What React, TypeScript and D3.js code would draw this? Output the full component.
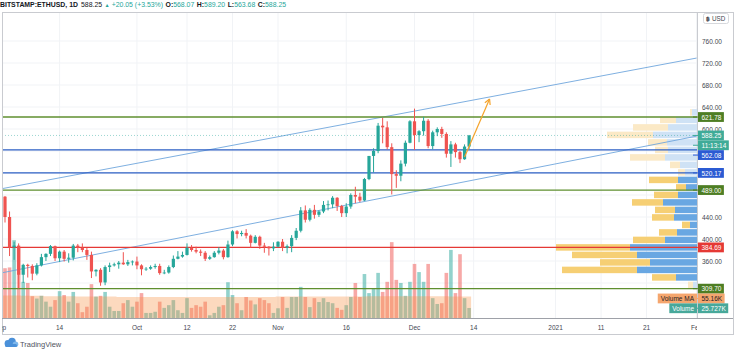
import * as d3 from 'd3';
import { useRef, useEffect } from 'react';

// BITSTAMP:ETHUSD daily candles, first candle 2 Sep 2020, last 13 Dec 2020
const firstDay = Date.UTC(2020, 8, 2);

const opens = [477, 440, 385, 388, 335, 353, 351, 337, 352, 367, 373, 387, 365, 377, 364, 366, 388, 384, 380, 371,
  341, 344, 321, 349, 352, 354, 357, 354, 358, 359, 352, 345, 346, 349, 351, 338, 339, 349, 364, 368,
  371, 384, 380, 377, 375, 364, 367, 375, 379, 367, 390, 414, 409, 411, 406, 393, 404, 388, 386, 383,
  386, 395, 384, 387, 402, 415, 452, 435, 453, 444, 450, 462, 463, 475, 460, 447, 459, 480, 477, 470,
  509, 551, 560, 606, 603, 567, 518, 515, 537, 575, 614, 589, 596, 615, 569, 594, 600, 591, 555, 572,
  558, 545, 568.07];
const highs = [478, 450, 395, 392, 355, 355, 354, 356, 373, 374, 389, 388, 379, 380, 374, 391, 391, 392, 384, 377,
  345, 347, 352, 357, 357, 360, 376, 362, 361, 368, 354, 349, 352, 355, 355, 344, 352, 370, 378, 377,
  392, 389, 386, 381, 378, 370, 378, 385, 382, 397, 416, 416, 415, 418, 408, 407, 406, 393, 387, 394,
  396, 400, 390, 407, 420, 458, 461, 456, 462, 452, 469, 470, 478, 476, 462, 465, 483, 495, 484, 511,
  551, 565, 611, 620, 614, 574, 525, 543, 579, 616, 637, 598, 622, 618, 597, 603, 604, 594, 578, 575,
  560, 572, 589.2];
const lows = [430, 369, 362, 310, 320, 330, 325, 334, 350, 360, 369, 360, 358, 359, 357, 361, 376, 376, 362, 329,
  332, 315, 316, 340, 350, 346, 353, 351, 352, 345, 334, 342, 344, 346, 335, 336, 337, 347, 363, 366,
  370, 377, 374, 369, 360, 362, 366, 372, 363, 366, 387, 401, 405, 401, 384, 392, 382, 375, 370, 378,
  385, 378, 374, 376, 398, 412, 430, 432, 437, 440, 447, 452, 456, 451, 440, 440, 455, 465, 467, 469,
  507, 521, 556, 574, 563, 481, 493, 505, 532, 574, 562, 576, 588, 565, 563, 587, 584, 548, 531, 548,
  538, 544, 563.68];
const closes = [440, 385, 388, 335, 353, 351, 337, 352, 367, 373, 387, 365, 377, 364, 366, 388, 384, 380, 371, 341,
  344, 321, 349, 352, 354, 357, 354, 358, 359, 352, 345, 346, 349, 351, 338, 339, 349, 364, 368, 371,
  384, 380, 377, 375, 364, 367, 375, 379, 367, 390, 414, 409, 411, 406, 393, 404, 388, 386, 383, 386,
  395, 384, 387, 402, 415, 452, 435, 453, 444, 450, 462, 463, 475, 460, 447, 459, 480, 477, 470, 509,
  551, 560, 606, 603, 567, 518, 515, 537, 575, 614, 589, 596, 615, 569, 594, 600, 591, 555, 572, 558,
  545, 568.07, 588.25];

// daily volume, thousands
const volumes = [128, 130, 200, 180, 93, 90, 56, 50, 57, 42, 29, 46, 69, 59, 42, 67, 38, 15, 29, 87,
  55, 57, 67, 29, 18, 18, 38, 46, 29, 42, 64, 13, 13, 16, 42, 26, 33, 46, 20, 13,
  51, 26, 33, 29, 42, 7, 13, 29, 33, 92, 59, 38, 20, 54, 45, 35, 51, 46, 38, 13,
  25, 54, 26, 54, 54, 80, 54, 28, 51, 41, 51, 41, 38, 26, 21, 33, 54, 90, 54, 113,
  64, 77, 116, 67, 93, 195, 98, 90, 57, 93, 139, 118, 93, 139, 51, 36, 38, 116, 175, 64,
  164, 51, 25.727];
const volumeMA = [58, 58, 58, 58, 57, 57, 57, 57, 57, 56, 56, 56, 56, 56, 56, 56, 55, 55, 55, 55,
  55, 55, 55, 55, 55, 54, 54, 54, 54, 54, 54, 54, 54, 54, 54, 54, 54, 54, 54, 54,
  54, 54, 54, 54, 54, 54, 54, 54, 54, 54, 54, 54, 54, 54, 54, 54, 54, 54, 54, 54,
  55, 55, 55, 55, 55, 55, 55, 55, 55, 55, 55, 55, 55, 55, 55, 55, 55, 55, 55, 55,
  56, 56, 56, 56, 56, 56, 56, 56, 56, 56, 56, 56, 56, 56, 56, 56, 56, 56, 55.5, 55.5,
  55.3, 55.2, 55.16];

// visible range volume profile: 24 rows from 309.70 up to 637, bottom row first
const profileLow = 309.7;
const profileHigh = 637;
const profileUp = [80, 420, 1200, 940, 1200, 1340, 640, 400, 140, 460, 440, 680, 380, 220, 380, 240, 340, 640, 580, 600, 880, 580, 420, 100];
const profileDown = [100, 480, 1500, 1000, 1300, 1480, 640, 360, 160, 440, 400, 620, 480, 200, 580, 140, 200, 700, 260, 380, 920, 700, 320, 40];
const valueAreaFirst = 1;
const valueAreaLast = 14;

// drawn levels
const levelPrices = [621.78, 562.08, 520.17, 489.0, 384.69, 309.7];
const levelKinds = ['green', 'blue', 'blue', 'green', 'red', 'green'];

// channel lines [date, price]
const channelUpper = [[Date.UTC(2020, 8, 1), 491], [Date.UTC(2021, 1, 1), 729]];
const channelLower = [[Date.UTC(2020, 8, 1), 338], [Date.UTC(2021, 1, 1), 587]];
const arrowPoints = [[Date.UTC(2020, 11, 12), 549], [Date.UTC(2020, 11, 17, 12), 654.5]];

const priceTicks = [320, 360, 400, 440, 480, 520, 560, 600, 640, 680, 720, 760];
const timeTickDates = [Date.UTC(2020, 8, 1), Date.UTC(2020, 8, 14), Date.UTC(2020, 9, 1), Date.UTC(2020, 9, 12),
  Date.UTC(2020, 9, 22), Date.UTC(2020, 10, 1), Date.UTC(2020, 10, 16), Date.UTC(2020, 11, 1), Date.UTC(2020, 11, 14),
  Date.UTC(2021, 0, 1), Date.UTC(2021, 0, 11), Date.UTC(2021, 0, 21), Date.UTC(2021, 1, 1)];
const timeTickLabels = ['Sep', '14', 'Oct', '12', '22', 'Nov', '16', 'Dec', '14', '2021', '11', '21', 'Feb'];

const lastPrice = 588.25;
const countdown = '11:13:14';
const volumeMALast = 55.16;
const volumeLast = 25.727;

export default function App() {
  const ref = useRef<SVGSVGElement>(null);

  useEffect(() => {
    const svg = d3.select(ref.current);
    svg.selectAll('*').remove();

    const font = '"Liberation Sans", Arial, sans-serif';
    const plot = { left: 2, right: 697, top: 12, bottom: 318 };
    const frame = { right: 733, bottom: 334 };
    const up = '#26a69a';
    const down = '#ef5350';
    const lineColors = { green: '#5f8f2f', blue: '#2c5fc4', red: '#e53935' };
    const labelColors = { green: '#4e7e24', blue: '#2b5bd3', red: '#e53935' };

    const x = d3.scaleUtc()
      .domain([new Date(firstDay), new Date(Date.UTC(2021, 1, 1))])
      .range([5, 696.6]);
    const y = d3.scaleLinear().domain([320, 760]).range([283, 41]);
    const yVol = d3.scaleLinear().domain([0, 200]).range([318, 240.2]);
    const wProfile = d3.scaleLinear().domain([0, 3000]).range([0, 150]);

    const dates = opens.map((_, i) => new Date(firstDay + i * 864e5));

    svg.append('rect').attr('width', 736).attr('height', 353).attr('fill', '#fff');

    const defs = svg.append('defs');
    defs.append('clipPath').attr('id', 'plotClip').append('rect')
      .attr('x', plot.left).attr('y', plot.top)
      .attr('width', plot.right - plot.left).attr('height', plot.bottom - plot.top);
    defs.append('clipPath').attr('id', 'timeClip').append('rect')
      .attr('x', plot.left).attr('y', plot.bottom)
      .attr('width', plot.right - plot.left).attr('height', frame.bottom - plot.bottom);

    const g = svg.append('g').attr('clip-path', 'url(#plotClip)');

    // grid
    g.selectAll('.vgrid').data(timeTickDates).enter().append('line')
      .attr('x1', d => x(new Date(d))).attr('x2', d => x(new Date(d)))
      .attr('y1', plot.top).attr('y2', plot.bottom)
      .attr('stroke', '#f1f3f6').attr('stroke-width', 1);
    g.selectAll('.hgrid').data(priceTicks).enter().append('line')
      .attr('x1', plot.left).attr('x2', plot.right)
      .attr('y1', d => y(d)).attr('y2', d => y(d))
      .attr('stroke', '#f1f3f6').attr('stroke-width', 1);

    // volume profile
    const rowH = (profileHigh - profileLow) / profileUp.length;
    profileUp.forEach((u, i) => {
      const lo = profileLow + i * rowH;
      const top = y(lo + rowH) + 0.5;
      const h = y(lo) - y(lo + rowH) - 1;
      const inVA = i >= valueAreaFirst && i <= valueAreaLast;
      const wu = wProfile(u);
      const wd = wProfile(profileDown[i]);
      g.append('rect').attr('x', plot.right - wu - wd).attr('y', top).attr('width', wd).attr('height', h)
        .attr('fill', inVA ? '#f6cf74' : '#fbe9c6');
      g.append('rect').attr('x', plot.right - wu).attr('y', top).attr('width', wu).attr('height', h)
        .attr('fill', inVA ? '#69a7e2' : '#cfe2f5');
    });

    // volume bars
    g.selectAll('.vol').data(volumes).enter().append('rect')
      .attr('x', (d, i) => x(dates[i]) - 1.8)
      .attr('y', d => yVol(d))
      .attr('width', 3.6)
      .attr('height', d => yVol(0) - yVol(d))
      .attr('fill', (d, i) => closes[i] >= opens[i] ? 'rgba(38,166,154,0.5)' : 'rgba(239,83,80,0.5)');

    // volume MA area
    const maData = [...volumeMA, volumeMA[volumeMA.length - 1]];
    const maX = (i: number) => i === 0 ? plot.left : i === volumeMA.length ? x(dates[i - 1]) + 2 : x(dates[i]) - 2.3;
    g.append('path')
      .attr('d', d3.area<number>().x((d, i) => maX(i)).y0(yVol(0)).y1(d => yVol(d)).curve(d3.curveStepAfter)(maData))
      .attr('fill', 'rgba(247,145,70,0.35)');

    // channel
    [channelUpper, channelLower].forEach(pts => {
      g.append('line')
        .attr('x1', x(new Date(pts[0][0]))).attr('y1', y(pts[0][1]))
        .attr('x2', x(new Date(pts[1][0]))).attr('y2', y(pts[1][1]))
        .attr('stroke', '#6fa6dc').attr('stroke-width', 0.9);
    });

    // current price dotted line
    g.append('line')
      .attr('x1', plot.left).attr('x2', plot.right)
      .attr('y1', y(lastPrice)).attr('y2', y(lastPrice))
      .attr('stroke', up).attr('stroke-opacity', 0.45).attr('stroke-dasharray', '1,2');

    // levels
    levelPrices.forEach((p, i) => {
      g.append('line')
        .attr('x1', plot.left).attr('x2', plot.right)
        .attr('y1', y(p)).attr('y2', y(p))
        .attr('stroke', lineColors[levelKinds[i]]).attr('stroke-width', 1.3);
    });

    // candles
    const candles = g.selectAll('.candle').data(opens).enter().append('g');
    candles.append('line')
      .attr('x1', (d, i) => x(dates[i])).attr('x2', (d, i) => x(dates[i]))
      .attr('y1', (d, i) => y(highs[i])).attr('y2', (d, i) => y(lows[i]))
      .attr('stroke', (d, i) => closes[i] >= d ? up : down).attr('stroke-width', 1);
    candles.append('rect')
      .attr('x', (d, i) => x(dates[i]) - 1.6)
      .attr('y', (d, i) => y(Math.max(d, closes[i])))
      .attr('width', 3.2)
      .attr('height', (d, i) => Math.max(0.8, Math.abs(y(d) - y(closes[i]))))
      .attr('fill', (d, i) => closes[i] >= d ? up : down);

    // arrow
    const ax1 = x(new Date(arrowPoints[0][0])), ay1 = y(arrowPoints[0][1]);
    const ax2 = x(new Date(arrowPoints[1][0])), ay2 = y(arrowPoints[1][1]);
    const ang = Math.atan2(ay2 - ay1, ax2 - ax1);
    g.append('line').attr('x1', ax1).attr('y1', ay1).attr('x2', ax2).attr('y2', ay2)
      .attr('stroke', '#f5a32a').attr('stroke-width', 1.2);
    [-0.5, 0.5].forEach(da => {
      g.append('line').attr('x1', ax2).attr('y1', ay2)
        .attr('x2', ax2 - 6 * Math.cos(ang + da)).attr('y2', ay2 - 6 * Math.sin(ang + da))
        .attr('stroke', '#f5a32a').attr('stroke-width', 1.2);
    });

    // frame and axes
    svg.append('rect')
      .attr('x', plot.left + 0.5).attr('y', plot.top + 0.5)
      .attr('width', frame.right - plot.left).attr('height', frame.bottom - plot.top)
      .attr('fill', 'none').attr('stroke', '#c9cbd0');
    svg.append('line').attr('x1', plot.right + 0.5).attr('x2', plot.right + 0.5)
      .attr('y1', plot.top).attr('y2', plot.bottom).attr('stroke', '#c9cbd0');
    svg.append('line').attr('x1', plot.left).attr('x2', frame.right)
      .attr('y1', plot.bottom + 0.5).attr('y2', plot.bottom + 0.5).attr('stroke', '#9ea1a8');

    svg.append('g').attr('clip-path', 'url(#timeClip)')
      .selectAll('text').data(timeTickDates).enter().append('text')
      .attr('x', d => x(new Date(d))).attr('y', 327)
      .attr('text-anchor', 'middle').attr('dominant-baseline', 'central')
      .attr('font-family', font).attr('font-size', 6.5).attr('fill', '#434651')
      .text((d, i) => timeTickLabels[i]);

    // price scale labels with collision push-down
    const labels: any[] = levelPrices.map((p, i) => ({
      y: y(p), text: p.toFixed(2), bg: labelColors[levelKinds[i]], fg: '#fff'
    }));
    labels.push({ y: y(lastPrice), text: lastPrice.toFixed(2), bg: '#3fab98', fg: '#fff' });
    labels.push({ y: y(lastPrice) + 0.01, text: countdown, bg: '#3fab98', fg: '#fff' });
    labels.push({ y: yVol(volumeMALast), text: volumeMALast.toFixed(2) + 'K', bg: '#f5a66e', fg: '#1f2023', name: 'Volume MA' });
    labels.push({ y: yVol(volumeLast), text: volumeLast.toFixed(3) + 'K', bg: '#47a89a', fg: '#fff', name: 'Volume' });
    labels.sort((a, b) => a.y - b.y);
    const lh = 9.8;
    for (let i = 1; i < labels.length; i++) {
      if (labels[i].y < labels[i - 1].y + lh) labels[i].y = labels[i - 1].y + lh;
    }

    // tick texts that sit under a label box are covered
    const visibleTicks = priceTicks.filter(p => labels.every(l => Math.abs(l.y - y(p)) >= 6));
    svg.selectAll('.ptick').data(visibleTicks).enter().append('text')
      .attr('x', 702).attr('y', d => y(d))
      .attr('dominant-baseline', 'central')
      .attr('font-family', font).attr('font-size', 6.5).attr('fill', '#434651')
      .text(d => d.toFixed(2));

    labels.forEach(l => {
      const lg = svg.append('g');
      const r = lg.append('rect').attr('x', 698).attr('y', l.y - lh / 2).attr('height', lh).attr('fill', l.bg);
      const t = lg.append('text').attr('x', 701.5).attr('y', l.y + 0.3)
        .attr('dominant-baseline', 'central')
        .attr('font-family', font).attr('font-size', 6.5).attr('fill', l.fg).text(l.text);
      const tw = (t.node() as SVGTextElement).getComputedTextLength();
      r.attr('width', tw + 6);
      lg.append('line').attr('x1', 693).attr('x2', 698).attr('y1', l.y).attr('y2', l.y).attr('stroke', l.bg);
      if (l.name) {
        const nt = lg.append('text').attr('y', l.y + 0.3)
          .attr('dominant-baseline', 'central')
          .attr('font-family', font).attr('font-size', 6.5).attr('fill', l.fg).text(l.name);
        const nw = (nt.node() as SVGTextElement).getComputedTextLength();
        nt.attr('x', 697 - nw - 3);
        lg.insert('rect', 'text').attr('x', 697 - nw - 6).attr('y', l.y - lh / 2)
          .attr('width', nw + 6).attr('height', lh).attr('fill', l.bg);
      }
    });

    // currency box
    svg.append('rect').attr('x', 703.5).attr('y', 13.5).attr('width', 25).attr('height', 10).attr('rx', 2)
      .attr('fill', '#fff').attr('stroke', '#d6d8dc');
    svg.append('text').attr('x', 706).attr('y', 18.7).attr('dominant-baseline', 'central')
      .attr('font-family', font).attr('font-size', 6).attr('font-weight', 'bold').attr('fill', '#434651')
      .text('฿');
    svg.append('text').attr('x', 712).attr('y', 18.7).attr('dominant-baseline', 'central')
      .attr('font-family', font).attr('font-size', 6.3).attr('fill', '#434651').text('USD');

    // header
    const header = svg.append('text').attr('x', 0).attr('y', 7)
      .attr('font-family', font).attr('font-size', 6.9).attr('fill', '#131722');
    header.append('tspan').attr('font-weight', 'bold').text('BITSTAMP:ETHUSD, 1D');
    header.append('tspan').attr('dx', 3).text('588.25');
    header.append('tspan').attr('dx', 2.5).attr('fill', up).attr('font-size', 5.2).text('▲');
    header.append('tspan').attr('dx', 2).attr('fill', up).text('+20.05 (+3.53%)');
    [['O:', '568.07'], ['H:', '589.20'], ['L:', '563.68'], ['C:', '588.25']].forEach(([k, v]) => {
      header.append('tspan').attr('dx', 2.5).attr('font-weight', 'bold').text(k);
      header.append('tspan').attr('fill', up).text(v);
    });

    // logo
    const logo = svg.append('g');
    logo.append('circle').attr('cx', 8).attr('cy', 343.5).attr('r', 3.4).attr('fill', '#4a90d9');
    logo.append('circle').attr('cx', 12).attr('cy', 341.5).attr('r', 3.8).attr('fill', '#4a90d9');
    logo.append('circle').attr('cx', 15.5).attr('cy', 344.3).attr('r', 2.8).attr('fill', '#7db7ec');
    logo.append('rect').attr('x', 5).attr('y', 344).attr('width', 12).attr('height', 3.1).attr('rx', 1.5).attr('fill', '#4a90d9');
    svg.append('text').attr('x', 20).attr('y', 344.5).attr('dominant-baseline', 'central')
      .attr('font-family', font).attr('font-size', 7.5).attr('fill', '#50535e').text('TradingView');
  }, []);

  return (
    <svg ref={ref} width={736} height={353} style={{ position: 'absolute', left: 0, top: 0 }}></svg>
  );
}
